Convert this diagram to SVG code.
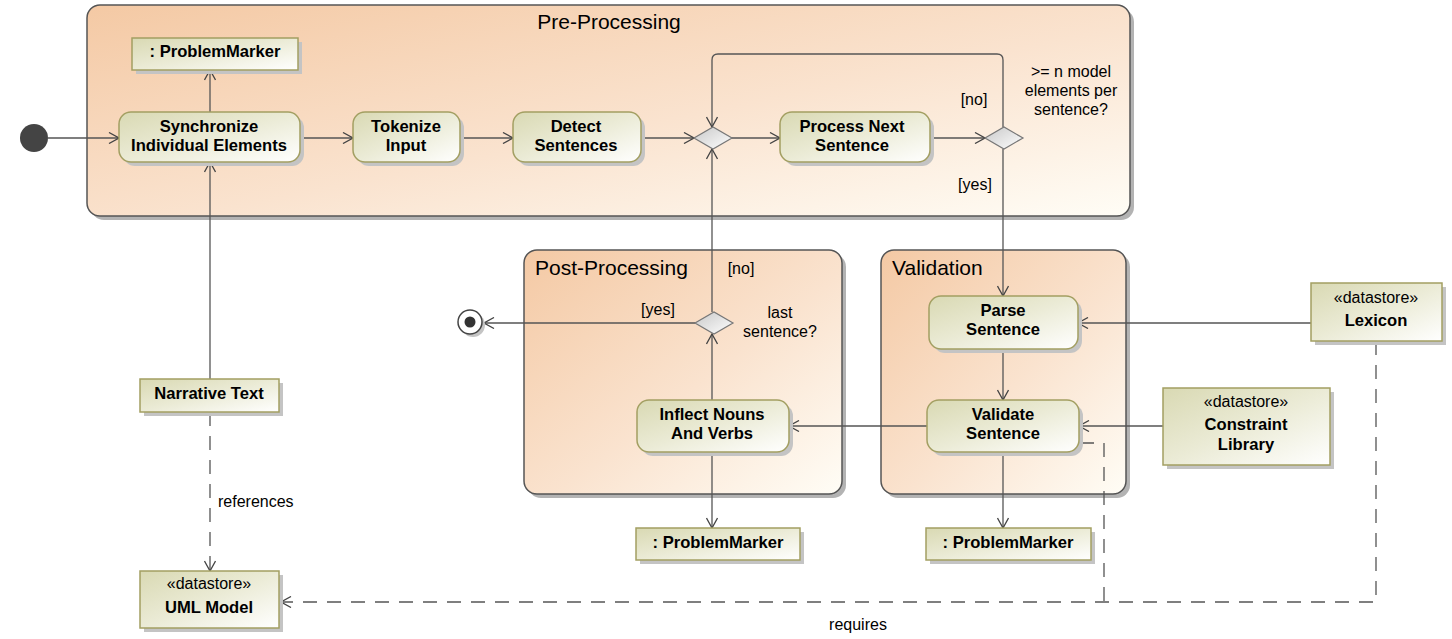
<svg xmlns="http://www.w3.org/2000/svg" width="1452" height="639" viewBox="0 0 1452 639">
<style>
text{font-family:"Liberation Sans",Arial,sans-serif;fill:#000}
.b{font-weight:bold;font-size:16.6px;text-anchor:middle}
.r{font-size:16px}
.c{text-anchor:middle}
.t{font-size:21px}
.frame{fill:url(#fg);stroke:#555;stroke-width:1.5}
.fsh{fill:#b3b3b3}
.act{fill:url(#ng);stroke:#a39f62;stroke-width:1.5}
.obj{fill:url(#ng);stroke:#a39f62;stroke-width:1.5}
.sh{fill:#c4c4c4}
.dia{fill:url(#dg);stroke:#777;stroke-width:1.2}
.ln{fill:none;stroke:#555;stroke-width:1.3}
.ar{marker-end:url(#arr)}
.da{stroke-dasharray:14 10}
</style>
<defs>
<linearGradient id="fg" x1="0" y1="0" x2="1" y2="1">
<stop offset="0" stop-color="#f4c9a4"/>
<stop offset="0.55" stop-color="#fae3cf"/>
<stop offset="1" stop-color="#fffdf6"/>
</linearGradient>
<linearGradient id="ng" x1="0" y1="0" x2="1" y2="1">
<stop offset="0" stop-color="#d9d9b3"/>
<stop offset="0.5" stop-color="#ebebd6"/>
<stop offset="1" stop-color="#ffffff"/>
</linearGradient>
<linearGradient id="dg" x1="0" y1="0" x2="1" y2="1">
<stop offset="0" stop-color="#c8c8c8"/>
<stop offset="1" stop-color="#ffffff"/>
</linearGradient>
<marker id="arr" viewBox="0 0 12 12" refX="11" refY="6" markerWidth="12" markerHeight="12" markerUnits="userSpaceOnUse" orient="auto">
<path d="M1,0.5 L11,6 L1,11.5" fill="none" stroke="#444" stroke-width="1.3"/>
</marker>
</defs>

<g id="frame-pre">
<rect class="fsh" x="91" y="9" width="1043" height="211" rx="13"/>
<rect class="frame" x="87" y="5" width="1043" height="211" rx="13"/>
<text class="t c" x="609" y="29">Pre-Processing</text>
</g>
<g id="frame-post">
<rect class="fsh" x="528" y="254" width="318" height="244" rx="13"/>
<rect class="frame" x="524" y="250" width="318" height="244" rx="13"/>
<text class="t" x="535" y="275">Post-Processing</text>
</g>
<g id="frame-val">
<rect class="fsh" x="885" y="254" width="245" height="244" rx="13"/>
<rect class="frame" x="881" y="250" width="245" height="244" rx="13"/>
<text class="t" x="892" y="275">Validation</text>
</g>

<g id="connectors">
<path class="ln ar" d="M48,138 H119"/>
<path class="ln ar" d="M210,112 V70"/>
<path class="ln ar" d="M300,138 H353"/>
<path class="ln ar" d="M460,138 H513"/>
<path class="ln ar" d="M641,138 H694"/>
<path class="ln ar" d="M731,138 H780"/>
<path class="ln ar" d="M930,138 H985"/>
<path class="ln ar" d="M1003,127 V60 Q1003,54 997,54 H718 Q712,54 712,60 V127"/>
<path class="ln ar" d="M1003,149 V296"/>
<path class="ln ar" d="M1003,350 V400"/>
<path class="ln ar" d="M927,426 H789"/>
<path class="ln ar" d="M1003,452 V528"/>
<path class="ln ar" d="M712,452 V528"/>
<path class="ln ar" d="M712,400 V334"/>
<path class="ln ar" d="M712,312 V149"/>
<path class="ln ar" d="M695,323 H484"/>
<path class="ln ar" d="M1311,323 H1078"/>
<path class="ln ar" d="M1163,426 H1079"/>
<path class="ln ar" d="M210,379 V162"/>
<path class="ln ar da" d="M210,412 V571"/>
<path class="ln ar da" d="M1376,341 V602 H281"/>
<path class="ln da" d="M1080,443 H1104 V602"/>
<text class="r" x="218" y="507">references</text>
<text class="r c" x="858" y="630">requires</text>
<text class="r c" x="974" y="105">[no]</text>
<text class="r c" x="975" y="190">[yes]</text>
<text class="r c" x="1071" y="77">&gt;= n model</text>
<text class="r c" x="1071" y="96">elements per</text>
<text class="r c" x="1071" y="115">sentence?</text>
<text class="r c" x="741" y="274">[no]</text>
<text class="r c" x="658" y="315">[yes]</text>
<text class="r c" x="780" y="318">last</text>
<text class="r c" x="780" y="337">sentence?</text>
</g>

<g id="initial">
<circle cx="34" cy="138" r="14" fill="#444"/>
</g>
<g id="final">
<circle cx="473" cy="325" r="12" fill="#c4c4c4"/>
<circle cx="470" cy="322" r="12" fill="#fff" stroke="#444" stroke-width="1.5"/>
<circle cx="470" cy="322" r="5.5" fill="#333"/>
</g>

<g id="pm-top">
<rect class="sh" x="136" y="42" width="166" height="32"/>
<rect class="obj" x="132" y="38" width="166" height="32"/>
<text class="b" x="215" y="57">: ProblemMarker</text>
</g>
<g id="synchronize">
<rect class="sh" x="123" y="116" width="181" height="50" rx="12"/>
<rect class="act" x="119" y="112" width="181" height="50" rx="12"/>
<text class="b" x="209" y="132">Synchronize</text>
<text class="b" x="209" y="151">Individual Elements</text>
</g>
<g id="tokenize">
<rect class="sh" x="357" y="116" width="107" height="50" rx="12"/>
<rect class="act" x="353" y="112" width="107" height="50" rx="12"/>
<text class="b" x="406" y="132">Tokenize</text>
<text class="b" x="406" y="151">Input</text>
</g>
<g id="detect">
<rect class="sh" x="517" y="116" width="128" height="50" rx="12"/>
<rect class="act" x="513" y="112" width="128" height="50" rx="12"/>
<text class="b" x="576" y="132">Detect</text>
<text class="b" x="576" y="151">Sentences</text>
</g>
<g id="merge">
<path class="dia" d="M694,138 L713,127 L732,138 L713,149 Z"/>
</g>
<g id="process">
<rect class="sh" x="784" y="116" width="150" height="50" rx="12"/>
<rect class="act" x="780" y="112" width="150" height="50" rx="12"/>
<text class="b" x="852" y="132">Process Next</text>
<text class="b" x="852" y="151">Sentence</text>
</g>
<g id="decision-n">
<path class="dia" d="M985,138 L1004,127 L1023,138 L1004,149 Z"/>
</g>
<g id="parse">
<rect class="sh" x="933" y="300" width="149" height="53" rx="12"/>
<rect class="act" x="929" y="296" width="149" height="53" rx="12"/>
<text class="b" x="1003" y="316">Parse</text>
<text class="b" x="1003" y="335">Sentence</text>
</g>
<g id="validate">
<rect class="sh" x="931" y="404" width="152" height="52" rx="12"/>
<rect class="act" x="927" y="400" width="152" height="52" rx="12"/>
<text class="b" x="1003" y="420">Validate</text>
<text class="b" x="1003" y="439">Sentence</text>
</g>
<g id="decision-last">
<path class="dia" d="M695,323 L714,312 L733,323 L714,334 Z"/>
</g>
<g id="inflect">
<rect class="sh" x="641" y="404" width="152" height="52" rx="12"/>
<rect class="act" x="637" y="400" width="152" height="52" rx="12"/>
<text class="b" x="712" y="420">Inflect Nouns</text>
<text class="b" x="712" y="439">And Verbs</text>
</g>
<g id="pm-post">
<rect class="sh" x="640" y="532" width="164" height="32"/>
<rect class="obj" x="636" y="528" width="164" height="32"/>
<text class="b" x="718" y="548">: ProblemMarker</text>
</g>
<g id="pm-val">
<rect class="sh" x="930" y="532" width="165" height="32"/>
<rect class="obj" x="926" y="528" width="165" height="32"/>
<text class="b" x="1008" y="548">: ProblemMarker</text>
</g>
<g id="lexicon">
<rect class="sh" x="1315" y="287" width="131" height="58"/>
<rect class="obj" x="1311" y="283" width="131" height="58"/>
<text class="r c" x="1376" y="303">«datastore»</text>
<text class="b" x="1376" y="326">Lexicon</text>
</g>
<g id="constraint">
<rect class="sh" x="1167" y="392" width="167" height="77"/>
<rect class="obj" x="1163" y="388" width="167" height="77"/>
<text class="r c" x="1246" y="407">«datastore»</text>
<text class="b" x="1246" y="430">Constraint</text>
<text class="b" x="1246" y="450">Library</text>
</g>
<g id="narrative">
<rect class="sh" x="144" y="383" width="139" height="33"/>
<rect class="obj" x="140" y="379" width="139" height="33"/>
<text class="b" x="209" y="399">Narrative Text</text>
</g>
<g id="uml">
<rect class="sh" x="144" y="575" width="139" height="57"/>
<rect class="obj" x="140" y="571" width="139" height="57"/>
<text class="r c" x="209" y="589">«datastore»</text>
<text class="b" x="209" y="613">UML Model</text>
</g>
</svg>
